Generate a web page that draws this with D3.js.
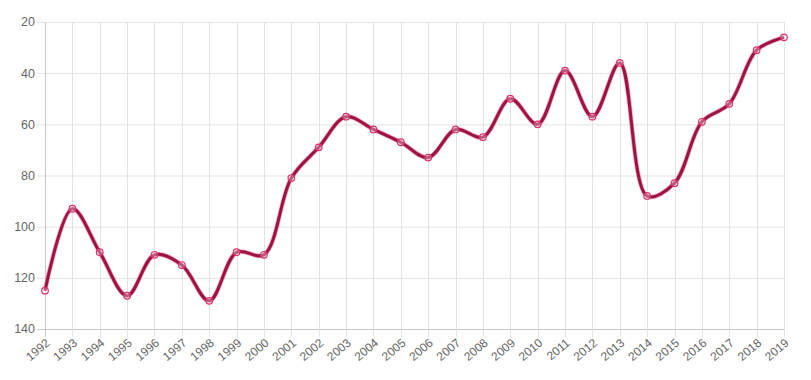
<!DOCTYPE html>
<html>
<head>
<meta charset="utf-8">
<script src="https://cdn.jsdelivr.net/npm/d3@7"></script>
<style>
  body { margin: 0; background: #fff; }
  svg { display: block; }
  text { font-family: "Liberation Sans", Arial, sans-serif; fill: #666; }
</style>
</head>
<body>
<svg id="chart" width="811" height="380"></svg>
<script>
const years = [1992,1993,1994,1995,1996,1997,1998,1999,2000,2001,2002,2003,2004,2005,
  2006,2007,2008,2009,2010,2011,2012,2013,2014,2015,2016,2017,2018,2019];
const values = [125,93,110,127,111,115,129,110,111,81,69,57,62,67,
  73,62,65,50,60,39,57,36,88,83,59,52,31,26];
const yTicks = [20,40,60,80,100,120,140];

const W = 811, H = 380;
const m = { left: 45, right: 27, top: 22, bottom: 51 };
const svg = d3.select("#chart");

const x = d3.scalePoint().domain(years).range([m.left, W - m.right]);
const y = d3.scaleLinear().domain([20, 140]).range([m.top, H - m.bottom]);

// grid
const g = svg.append("g");
g.selectAll(".hg").data(yTicks).join("line")
  .attr("x1", m.left - 8).attr("x2", W - m.right)
  .attr("y1", d => y(d) + 0.5).attr("y2", d => y(d) + 0.5)
  .attr("stroke", d => d === 140 ? "#c8c8c8" : "#e3e3e3").attr("stroke-width", 1);
g.selectAll(".vg").data(years).join("line")
  .attr("x1", d => Math.round(x(d)) + 0.5).attr("x2", d => Math.round(x(d)) + 0.5)
  .attr("y1", m.top).attr("y2", H - m.bottom + 8)
  .attr("stroke", (d, i) => i === 0 ? "#c8c8c8" : "#e3e3e3").attr("stroke-width", 1);

// y labels
svg.append("g").selectAll("text").data(yTicks).join("text")
  .attr("x", m.left - 10).attr("y", d => y(d)).attr("dy", "0.35em")
  .attr("text-anchor", "end").style("font-size", "12.5px").text(d => d);

// x labels
svg.append("g").selectAll("text").data(years).join("text")
  .attr("transform", d => `translate(${x(d) + 3},${H - m.bottom + 12}) rotate(-40)`)
  .attr("text-anchor", "end").attr("dy", "0.35em")
  .style("font-size", "12px").text(d => d);

const pts = years.map((d, i) => [x(d), y(values[i])]);
const line = d3.line().curve(d3.curveCatmullRom.alpha(0.5));

svg.append("path").attr("d", line(pts)).attr("fill", "none")
  .attr("stroke", "#e9517f").attr("stroke-width", 4.5).attr("stroke-opacity", 0.55);
svg.append("path").attr("d", line(pts)).attr("fill", "none")
  .attr("stroke", "#9c1444").attr("stroke-width", 3);

svg.append("g").selectAll("circle").data(pts).join("circle")
  .attr("cx", d => d[0]).attr("cy", d => d[1]).attr("r", 3.3)
  .attr("fill", "rgba(255,255,255,0.3)").attr("stroke", "#d9346a").attr("stroke-width", 1.2);
</script>
</body>
</html>
